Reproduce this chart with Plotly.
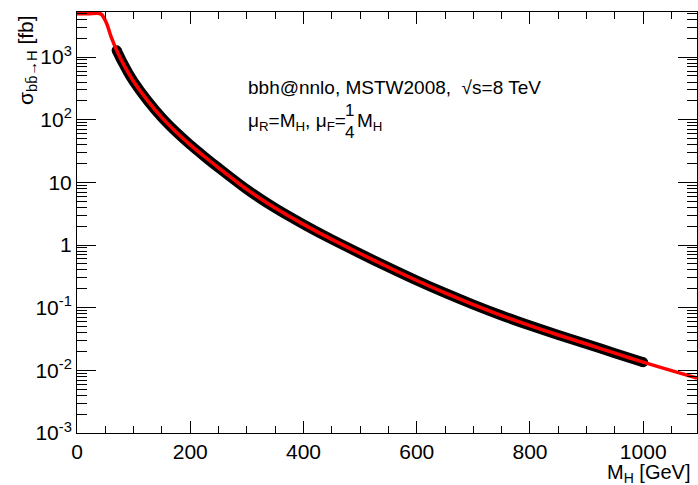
import plotly.graph_objects as go

# ---- data (M_H in GeV, sigma in fb) ----
mh_fit = [0, 20, 42, 52, 60, 70, 80, 90, 100, 125, 150, 175, 200, 225, 250, 300, 350,
          400, 450, 500, 550, 600, 650, 700, 750, 800, 850, 900, 950, 1000, 1050, 1095]
sigma_fit = [4900, 4900, 4900, 3500, 2140, 1288, 841, 575, 409, 200, 108, 63.8, 39.8, 25.9,
             17.1, 7.73, 3.89, 2.14, 1.23, 0.733, 0.442, 0.272, 0.172, 0.112, 0.075,
             0.0519, 0.0367, 0.0263, 0.0188, 0.0135, 0.00989, 0.00755]

mh_nnlo = [70, 80, 90, 100, 125, 150, 175, 200, 225, 250, 300, 350, 400, 450, 500,
           550, 600, 650, 700, 750, 800, 850, 900, 950, 1000]
sigma_nnlo = [1288, 841, 575, 409, 200, 108, 63.8, 39.8, 25.9, 17.1, 7.73, 3.89, 2.14, 1.23,
              0.733, 0.442, 0.272, 0.172, 0.112, 0.075, 0.0519, 0.0367, 0.0263, 0.0188,
              0.0135]

x_tickvals = [0, 200, 400, 600, 800, 1000]
x_ticktext = ["0", "200", "400", "600", "800", "1000"]
y_tickvals = [1e-3, 1e-2, 1e-1, 1, 10, 100, 1000]
y_ticktext = ["10<sup>-3</sup>", "10<sup>-2</sup>", "10<sup>-1</sup>", "1", "10",
              "10<sup>2</sup>", "10<sup>3</sup>"]
y_minor = [m * 10 ** e for e in range(-3, 4) for m in range(2, 10)]

FONT = "Liberation Sans, Arial, Helvetica, sans-serif"
W, H = 698, 485
L, R, T, B = 77, 1, 12, 52
PW, PH = W - L - R, H - T - B


def px(x):
    return (x - L) / PW


def py(y):
    return 1 - (y - T) / PH


fig = go.Figure()
fig.add_trace(go.Scatter(x=mh_nnlo, y=sigma_nnlo, mode="lines",
                         line=dict(color="black", width=10, shape="spline", smoothing=0.8),
                         showlegend=False, hoverinfo="skip"))
fig.add_trace(go.Scatter(x=[mh_nnlo[0], mh_nnlo[-1]], y=[sigma_nnlo[0], sigma_nnlo[-1]],
                         mode="markers", marker=dict(color="black", size=10),
                         showlegend=False, hoverinfo="skip", cliponaxis=True))
fig.add_trace(go.Scatter(x=mh_fit, y=sigma_fit, mode="lines",
                         line=dict(color="#ff0000", width=3.5, shape="spline", smoothing=0.8),
                         showlegend=False, hoverinfo="skip"))

fig.update_layout(
    width=W, height=H,
    margin=dict(l=L, r=R, t=T, b=B),
    paper_bgcolor="white", plot_bgcolor="white",
    font=dict(family=FONT, size=21, color="black"),
    xaxis=dict(range=[0, 1095], showgrid=False, zeroline=False,
               showline=True, linecolor="black", linewidth=1, mirror="ticks",
               ticks="inside", ticklen=12, tickcolor="black", tickwidth=1,
               tickmode="array", tickvals=x_tickvals, ticktext=x_ticktext,
               tickfont=dict(size=21, family=FONT),
               minor=dict(ticks="inside", ticklen=7, tickcolor="black", dtick=50,
                          tick0=0, showgrid=False)),
    yaxis=dict(type="log", range=[-3, 3.72], showgrid=False, zeroline=False,
               showline=True, linecolor="black", linewidth=1, mirror="ticks",
               ticks="inside", ticklen=19, tickcolor="black", tickwidth=1,
               tickmode="array", tickvals=y_tickvals, ticktext=y_ticktext,
               tickfont=dict(size=21, family=FONT),
               minor=dict(ticks="inside", ticklen=10, tickcolor="black",
                          tickmode="array", tickvals=y_minor, showgrid=False)),
)

ann = []
ann.append(dict(text="bbh@nnlo, MSTW2008,  \u221as=8 TeV", x=px(246), y=py(88),
                xanchor="left", yanchor="middle", font=dict(size=19)))
ann.append(dict(text="\u03bc<sub>R</sub>=M<sub>H</sub>, \u03bc<sub>F</sub>=", x=px(246), y=py(122),
                xanchor="left", yanchor="middle", font=dict(size=19)))
ann.append(dict(text="1<br>4", x=px(349), y=py(122), xanchor="center", yanchor="middle",
                font=dict(size=17)))
ann.append(dict(text="M<sub>H</sub>", x=px(355), y=py(122), xanchor="left", yanchor="middle",
                font=dict(size=19)))
ann.append(dict(text="M<sub>H</sub> [GeV]", x=px(693), y=py(473), xanchor="right",
                yanchor="middle", font=dict(size=20)))
ann.append(dict(text="\u03c3<sub>bb\u0304\u2192H</sub> [fb]", x=px(27), y=py(13),
                xanchor="center", yanchor="top", textangle=-90, font=dict(size=21)))
for a in ann:
    a.update(xref="paper", yref="paper", showarrow=False)
fig.update_layout(annotations=ann)

fig.write_html("out.html")
